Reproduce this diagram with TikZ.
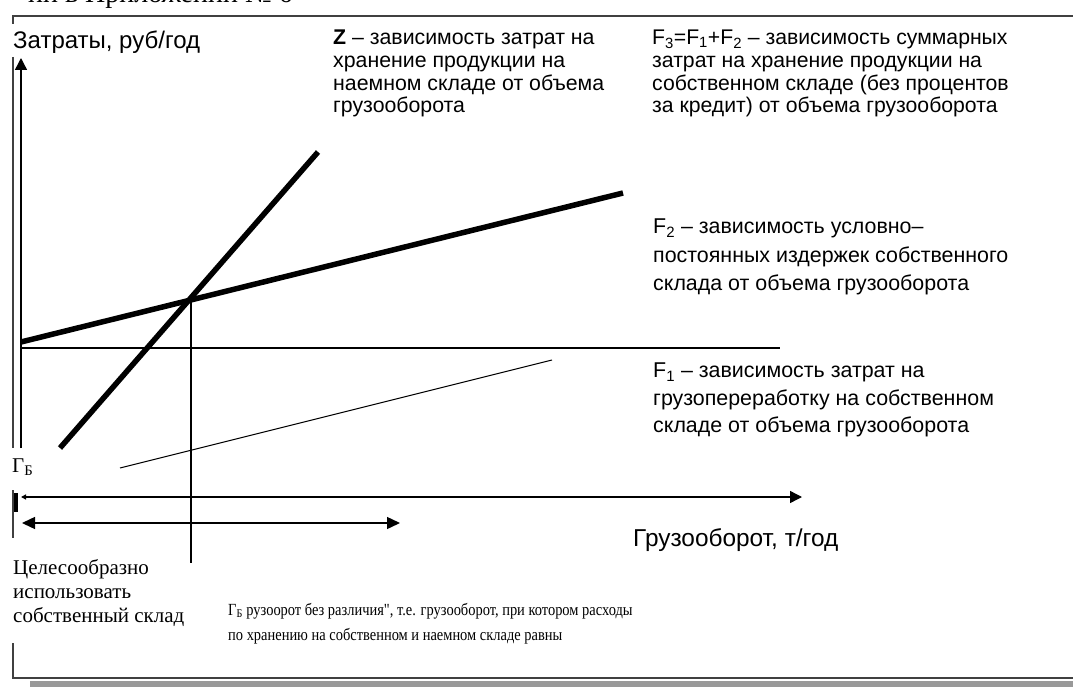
\documentclass[tikz,border=0pt]{standalone}
\usepackage{fontspec}
\setmainfont{Liberation Sans}
\newfontfamily\rmru{Liberation Serif}
\usetikzlibrary{arrows.meta}
\begin{document}
\begin{tikzpicture}[x=1pt,y=-1pt,
  framel/.style={line width=2pt,draw=black!75},
  axisl/.style={line width=1.4pt},
  heavy/.style={line width=5.5pt},
  thinl/.style={line width=1pt},
  tipR/.style={-{Triangle[length=12pt,width=12pt]}},
  tipB/.style={{Triangle[length=13pt,width=12pt]}-{Triangle[length=13pt,width=12pt]}},
  sblock/.style={inner sep=0pt,anchor=north west,align=left},
  serifblock/.style={inner sep=0pt,anchor=north west,align=left}
]
\useasboundingbox (0,0) rectangle (1073,687);
% clipped header
\node[inner sep=0pt,anchor=base east,font=\rmru\fontsize{28}{30}\selectfont] (hdr) at (293,3) {ии в Приложении № 6};
% frame
\coordinate (ftl) at (13,16);
\coordinate (ftr) at (1073,16);
\coordinate (ft2) at (13,24);
\coordinate (fl1a) at (13,57);
\coordinate (fl1b) at (13,448);
\coordinate (fl2a) at (13,490);
\coordinate (fl2b) at (13,538);
\coordinate (fl3a) at (13,643);
\coordinate (fbl) at (13,678);
\coordinate (fbr) at (1073,678);
\draw[framel] (ft2) -- (ftl) -- (ftr);
\draw[framel] (fl1a) -- (fl1b);
\draw[framel] (fl2a) -- (fl2b);
\draw[framel] (fl3a) -- (fbl) -- (fbr);
\fill[black!40] (30,681) rectangle (1073,687);
% axes
\coordinate (o) at (21,448);
\coordinate (ytop) at (21,58);
\draw[axisl,tipR] (o) -- (ytop);
\coordinate (xl) at (21,497);
\coordinate (xr) at (802,497);
\draw[axisl,{Triangle[length=5pt,width=5pt]}-{Triangle[length=12pt,width=12pt]}] (xl) -- (xr);
\draw[line width=4pt] (16,493) -- (16,512);
\coordinate (dl) at (22,523);
\coordinate (dr) at (400,523);
\draw[axisl,tipB] (dl) -- (dr);
% lines
\coordinate (f3a) at (21,342);
\coordinate (f3b) at (623,193);
\draw[heavy] (f3a) -- (f3b);
\coordinate (za) at (60,448);
\coordinate (zb) at (318,152);
\draw[heavy] (za) -- (zb);
\coordinate (f2a) at (21,348);
\coordinate (f2b) at (780,348);
\draw[axisl] (f2a) -- (f2b);
\coordinate (f1a) at (120,468);
\coordinate (f1b) at (552,360);
\draw[thinl] (f1a) -- (f1b);
\coordinate (va) at (191,300);
\coordinate (vb) at (191,563);
\draw[axisl] (va) -- (vb);
% texts
\node[inner sep=0pt,anchor=base west,font=\fontsize{24}{25}\selectfont] (ylab) at (13,49) {Затраты, руб/год};
\node[sblock,font=\fontsize{21.3}{22.7}\selectfont] (ztxt) at (333,30) {\textbf{Z} – зависимость затрат на\\хранение продукции на\\наемном складе от объема\\грузооборота};
\node[sblock,font=\fontsize{21.2}{22.7}\selectfont] (f3txt) at (652,30) {F\textsubscript{3}=F\textsubscript{1}+F\textsubscript{2} – зависимость суммарных\\затрат на хранение продукции на\\собственном складе (без процентов\\за кредит) от объема грузооборота};
\node[sblock,font=\fontsize{21.4}{28.5}\selectfont] (f2txt) at (653,219) {F\textsubscript{2} – зависимость условно–\\постоянных издержек собственного\\склада от объема грузооборота};
\node[sblock,font=\fontsize{21.4}{27.5}\selectfont] (f1txt) at (653,363) {F\textsubscript{1} – зависимость затрат на\\грузопереработку на собственном\\складе от объема грузооборота};
\node[inner sep=0pt,anchor=base west,font=\fontsize{24.4}{26}\selectfont] (xlab) at (633,546) {Грузооборот, т/год};
\node[inner sep=0pt,anchor=base west,font=\rmru\fontsize{21}{22}\selectfont] (gb) at (12,472) {Г\textsubscript{Б}};
\node[serifblock,font=\rmru\fontsize{21}{24}\selectfont] (own) at (13,559) {Целесообразно\\использовать\\собственный склад};
\node[serifblock,font=\rmru\fontsize{17}{25}\selectfont] (note) at (228,603) {\scalebox{0.85}[1]{Г\textsubscript{Б} рузоорот без различия", т.е. грузооборот, при котором расходы}\\\scalebox{0.85}[1]{по хранению на собственном и наемном складе равны}};
\end{tikzpicture}
\end{document}
